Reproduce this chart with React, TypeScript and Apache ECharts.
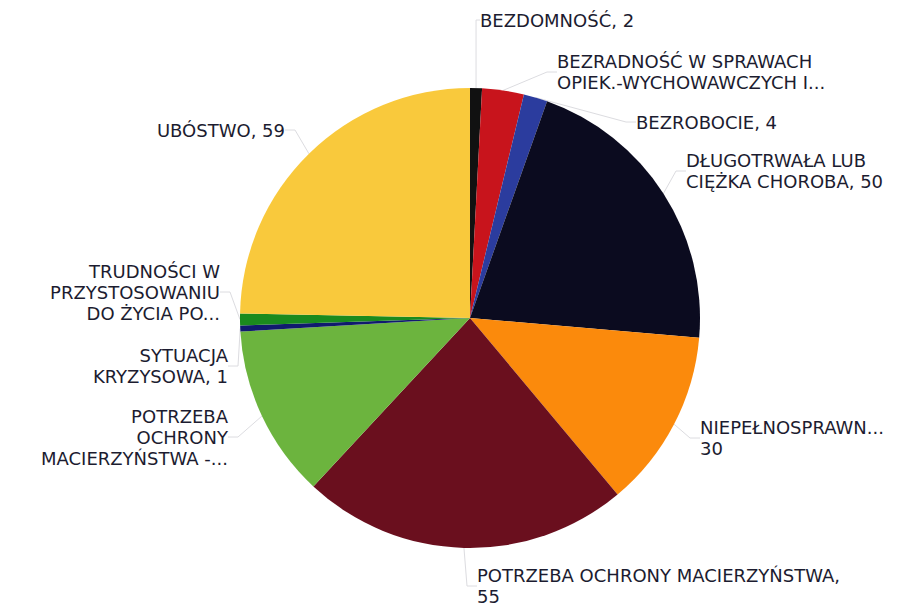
import React, { useEffect, useRef } from "react";
import * as echarts from "echarts";

const names = [
  "BEZDOMNOŚĆ",
  "BEZRADNOŚĆ W SPRAWACH OPIEK.-WYCHOWAWCZYCH I...",
  "BEZROBOCIE",
  "DŁUGOTRWAŁA LUB CIĘŻKA CHOROBA",
  "NIEPEŁNOSPRAWN...",
  "POTRZEBA OCHRONY MACIERZYŃSTWA",
  "POTRZEBA OCHRONY MACIERZYŃSTWA -...",
  "SYTUACJA KRYZYSOWA",
  "TRUDNOŚCI W PRZYSTOSOWANIU DO ŻYCIA PO...",
  "UBÓSTWO",
];

const values = [2, 7, 4, 50, 30, 55, 29, 1, 2, 59];

const labelFormats = [
  "BEZDOMNOŚĆ, {c}",
  "BEZRADNOŚĆ W SPRAWACH\nOPIEK.-WYCHOWAWCZYCH I...",
  "BEZROBOCIE, {c}",
  "DŁUGOTRWAŁA LUB\nCIĘŻKA CHOROBA, {c}",
  "NIEPEŁNOSPRAWN...\n{c}",
  "POTRZEBA OCHRONY MACIERZYŃSTWA,\n{c}",
  "POTRZEBA\nOCHRONY\nMACIERZYŃSTWA -...",
  "SYTUACJA\nKRYZYSOWA, {c}",
  "TRUDNOŚCI W\nPRZYSTOSOWANIU\nDO ŻYCIA PO...",
  "UBÓSTWO, {c}",
];

const colors = [
  "#111111",
  "#c8141c",
  "#2b3c9e",
  "#0b0b1f",
  "#fb8a0c",
  "#6a0f1e",
  "#6cb43e",
  "#101a6e",
  "#1b8a1e",
  "#f9c93c",
];

const labelAnchors = [
  { x: 480, y: 20, align: "left" },
  { x: 557, y: 72, align: "left" },
  { x: 636, y: 122, align: "left" },
  { x: 686, y: 171, align: "left" },
  { x: 700, y: 438, align: "left" },
  { x: 477, y: 586, align: "left" },
  { x: 228, y: 437, align: "right" },
  { x: 228, y: 366, align: "right" },
  { x: 220, y: 292, align: "right" },
  { x: 285, y: 130, align: "right" },
];

export default function App() {
  const ref = useRef<HTMLDivElement>(null);
  useEffect(() => {
    document.body.style.margin = "0";
    const chart = echarts.init(ref.current!, null, { renderer: "svg" });
    chart.setOption({
      animation: false,
      backgroundColor: "#ffffff",
      series: [
        {
          type: "pie",
          center: [470, 318],
          radius: 230,
          startAngle: 90,
          clockwise: true,
          avoidLabelOverlap: false,
          itemStyle: { borderWidth: 0 },
          label: {
            show: true,
            color: "#1c1c30",
            fontFamily: "DejaVu Sans",
            fontSize: 18,
            lineHeight: 21,
          },
          labelLine: {
            show: true,
            length: 10,
            length2: 10,
            lineStyle: { color: "#dcdce0", width: 1 },
          },
          labelLayout: (params: any) => {
            const a = labelAnchors[params.dataIndex];
            return {
              x: a.x,
              y: a.y,
              align: a.align,
              verticalAlign: "middle",
            };
          },
          data: names.map((n, i) => ({
            name: n,
            value: values[i],
            itemStyle: { color: colors[i] },
            label: {
              formatter: labelFormats[i],
              align: labelAnchors[i].align,
            },
          })),
        },
      ],
    });
    return () => chart.dispose();
  }, []);
  return <div ref={ref} style={{ width: 919, height: 607 }} />;
}
